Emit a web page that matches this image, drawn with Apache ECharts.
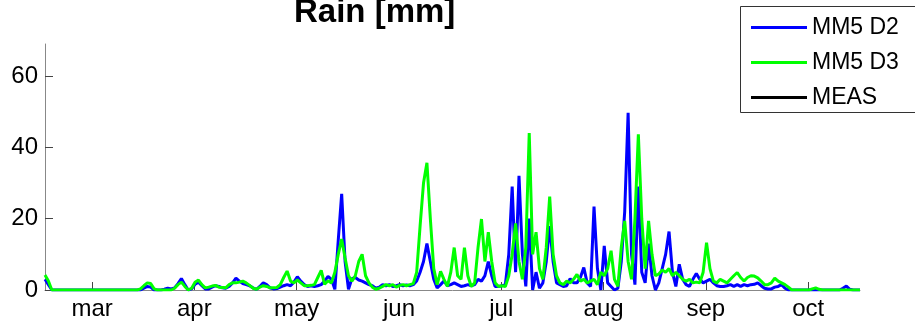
<!DOCTYPE html>
<html>
<head>
<meta charset="utf-8">
<script src="https://cdn.jsdelivr.net/npm/echarts@6/dist/echarts.min.js"></script>
<style>
  html, body { margin: 0; padding: 0; background: #fff; }
  #main { width: 915px; height: 326px; }
</style>
</head>
<body>
<div id="main"></div>
<script>
// daily rain [mm], day 0 = mid february
var rainD2 = [
    3, 1.5, 0, 0, 0, 0, 0, 0, 0, 0,
    0, 0, 0, 0, 0, 0, 0, 0, 0, 0,
    0, 0, 0, 0, 0, 0, 0, 0, 0, 0.5,
    1, 0.8, 0, 0, 0, 0.2, 0.5, 0.3, 0.6, 1.8,
    3.2, 1.5, 0, 0.3, 1.6, 2.2, 1.2, 0.3, 0.3, 0.8,
    1.2, 1, 0.6, 0.5, 1, 2, 3.3, 2.5, 1.8, 1.5,
    1.2, 0.6, 0.2, 1, 2, 1.5, 0.6, 0.3, 0.4, 0.8,
    1.2, 1.5, 1.2, 2.2, 3.7, 2.5, 1.5, 1, 1.2, 1,
    1.2, 1.5, 2.5, 3.8, 3, 0.2, 14, 27, 8, 0.2,
    3.2, 3.5, 2.8, 2.5, 2, 1.5, 1.2, 0.5, 0.8, 1.5,
    1.2, 1.5, 1, 1.2, 1.5, 1.2, 1.4, 1.2, 1.5, 2.5,
    5, 8, 13, 8, 3, 0.6, 1.5, 2.5, 1.2, 1.5,
    2, 1.5, 1, 1.2, 1.5, 1.2, 1.5, 3, 2.5, 4,
    8, 4, 1, 1, 1.2, 1.5, 10, 29, 5, 32,
    10, 1, 20, 0, 5, 0.5, 2, 8, 17.9, 8,
    2, 1.5, 1, 1.2, 3.2, 2, 2, 3.5, 6.3, 2,
    1, 23.4, 6, 0, 12.4, 2, 1, 0, 0.5, 8,
    22, 49.7, 10, 1.5, 29, 5, 2, 13, 4, 0,
    2, 6, 10, 16.4, 5, 1, 7.2, 3, 1.5, 1,
    3, 4.6, 3, 2, 2.5, 3, 2, 1.2, 1, 1,
    1.2, 1.5, 1, 1.5, 1, 1.5, 1.2, 1.5, 1.6, 2,
    1.2, 0.5, 0.3, 0.3, 0.8, 1, 1.5, 0.5, 0, 0,
    0, 0, 0, 0, 0, 0, 0, 0, 0, 0,
    0, 0, 0, 0, 0.5, 1.1, 0.2, 0, 0, 0
];
var rainD3 = [
    4.2, 2.5, 0, 0, 0, 0, 0, 0, 0, 0,
    0, 0, 0, 0, 0, 0, 0, 0, 0, 0,
    0, 0, 0, 0, 0, 0, 0, 0, 0.3, 1.2,
    2, 1.8, 0.3, 0, 0, 0, 0, 0, 0.5, 1.5,
    2.2, 1, 0, 0.5, 2.2, 2.8, 1.5, 0.6, 0.8, 1.1,
    1.3, 0.8, 0.7, 0.6, 1.5, 2, 2, 2.2, 2.5, 2,
    1.3, 0.5, 0.2, 0.8, 1.2, 1, 0.6, 0.6, 0.7, 1.5,
    3.5, 5.3, 2.5, 2, 2.8, 2, 1.2, 1.2, 1.3, 1.5,
    3.5, 5.5, 1.6, 2.6, 2, 5, 10, 14.3, 9, 4,
    2.5, 4, 8, 10, 4, 2, 0.8, 0.2, 0.5, 1,
    1.5, 1.2, 1.5, 0.8, 1.3, 1.5, 1.2, 1.5, 1.8, 5,
    18, 30, 35.7, 20, 6, 1.5, 5.2, 3, 1, 5,
    11.9, 4, 3, 11.9, 4, 1, 2, 12, 19.9, 8,
    16.2, 8, 2, 1, 1.2, 1, 4, 10, 18.7, 8,
    3, 12, 44, 10, 16.2, 6, 3, 12, 26.2, 10,
    4, 2, 1.5, 2.5, 2, 3, 4.4, 2.5, 3, 2,
    2.5, 3, 1.5, 5, 4, 6, 11, 3, 1, 12,
    19.4, 8, 3, 20, 43.7, 20, 6, 19.4, 10, 4,
    4.5, 5.6, 5, 6, 4, 5, 4, 3, 2.5, 3,
    2, 2.2, 2, 5, 13.3, 6, 2.5, 2, 3, 2.5,
    2, 3, 4, 4.9, 3.5, 2.5, 3.5, 4, 3.9, 3.4,
    2.5, 1.5, 1.5, 2, 3.3, 2.5, 2, 1.5, 0.8, 0,
    0, 0, 0, 0, 0, 0.3, 0.6, 0.2, 0, 0,
    0, 0, 0, 0, 0, 0, 0, 0, 0, 0
];
var rainMeas = [];   // no measurements in this period

var monthTicks = [13.8, 43.8, 73.8, 103.8, 133.8, 163.8, 193.8, 223.8];
var monthLabels = ['mar', 'apr', 'may', 'jun', 'jul', 'aug', 'sep', 'oct'];
var yTicks = [0, 20, 40, 60];

function toPairs(arr) {
    var out = [];
    for (var i = 0; i < arr.length; i++) {
        out.push([i, arr[i]]);
    }
    return out;
}

var FONT = 'Liberation Sans, Arial, sans-serif';
var myChart = echarts.init(document.getElementById('main'));

var option = {
    animation: false,
    title: {
        text: 'Rain [mm]',
        left: 294,
        top: -4,
        padding: 0,
        textStyle: { fontFamily: FONT, fontSize: 33, fontWeight: 'bold', color: '#000' }
    },
    // legend frame runs past the right edge of the figure, as in the original
    graphic: [{
        type: 'rect',
        z: 3,
        shape: { x: 740.5, y: 6.5, width: 220, height: 106 },
        style: { fill: '#fff', stroke: '#333', lineWidth: 1 }
    }],
    legend: {
        data: ['MM5 D2', 'MM5 D3', 'MEAS'],
        orient: 'vertical',
        left: 740,
        top: 6,
        z: 5,
        padding: [9, 0, 5, 11],
        itemGap: 10,
        itemWidth: 56,
        itemHeight: 3,
        icon: 'rect',
        textStyle: { fontFamily: FONT, fontSize: 23, color: '#000', lineHeight: 25 }
    },
    grid: { left: 45, right: 55, top: 44, bottom: 36 },
    xAxis: {
        type: 'value',
        min: 0,
        max: rainD2.length - 1,
        axisLine: { show: true, lineStyle: { color: '#888', width: 1 } },
        axisTick: {
            show: true, inside: true, length: 8,
            customValues: monthTicks,
            lineStyle: { color: '#444' }
        },
        axisLabel: {
            customValues: monthTicks,
            margin: 7,
            fontFamily: FONT, fontSize: 24, color: '#000',
            formatter: function (v) {
                for (var k = 0; k < monthTicks.length; k++) {
                    if (Math.abs(monthTicks[k] - v) < 0.01) return monthLabels[k];
                }
                return '';
            }
        },
        splitLine: { show: false }
    },
    yAxis: {
        type: 'value',
        min: 0,
        max: 69,
        axisLine: { show: true, lineStyle: { color: '#888', width: 1 } },
        axisTick: {
            show: true, inside: true, length: 8,
            customValues: yTicks,
            lineStyle: { color: '#444' }
        },
        axisLabel: {
            customValues: yTicks,
            margin: 7,
            fontFamily: FONT, fontSize: 24, color: '#000'
        },
        splitLine: { show: false }
    },
    series: [
        {
            name: 'MM5 D2', type: 'line', color: '#0000ff',
            showSymbol: false, symbol: 'none',
            lineStyle: { width: 3, color: '#0000ff' },
            data: toPairs(rainD2)
        },
        {
            name: 'MM5 D3', type: 'line', color: '#00ff00',
            showSymbol: false, symbol: 'none',
            lineStyle: { width: 3, color: '#00ff00' },
            data: toPairs(rainD3)
        },
        {
            name: 'MEAS', type: 'line', color: '#000000',
            showSymbol: false, symbol: 'none',
            lineStyle: { width: 3, color: '#000000' },
            data: toPairs(rainMeas)
        }
    ]
};

myChart.setOption(option);
</script>
</body>
</html>
